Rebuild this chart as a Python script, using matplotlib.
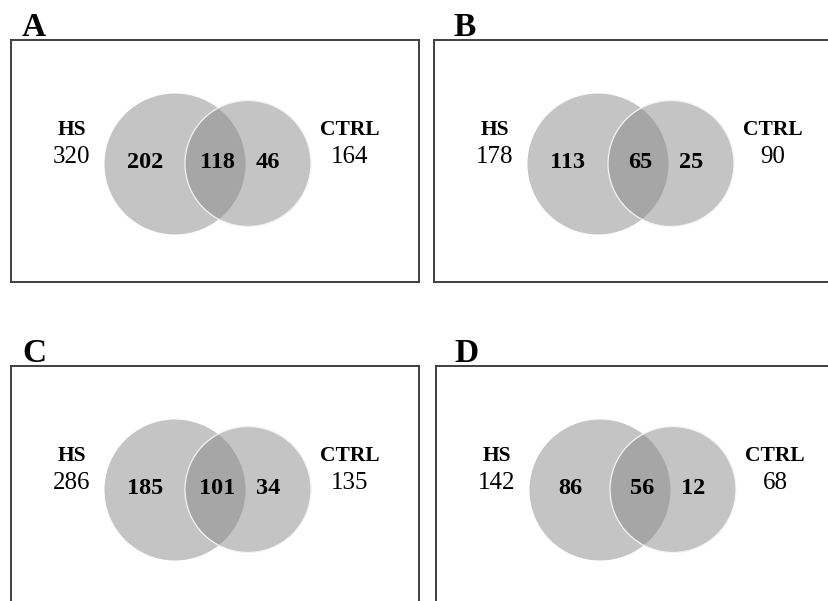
import matplotlib.pyplot as plt
from matplotlib.patches import Circle

# panel letters and counts
panels = ["A", "B", "C", "D"]
hs_total = [320, 178, 286, 142]
ctrl_total = [164, 90, 135, 68]
hs_only = [202, 113, 185, 86]
shared = [118, 65, 101, 56]
ctrl_only = [46, 25, 34, 12]

W, H = 829, 601
# box position of each panel in pixels (left, top)
boxes = [(11, 40), (434, 40), (11, 366), (436, 366)]
box_w, box_h = 408, 242
letter_dx = [11, 19, 11, 18]

plt.rcParams["font.family"] = ["Liberation Serif", "DejaVu Serif"]

fig = plt.figure(figsize=(W / 100, H / 100), dpi=100)

for i, (left, top) in enumerate(boxes):
    ax = fig.add_axes([left / W, 1 - (top + box_h) / H, box_w / W, box_h / H])
    ax.set_xlim(0, box_w)
    ax.set_ylim(box_h, 0)
    ax.set_xticks([])
    ax.set_yticks([])
    for s in ax.spines.values():
        s.set_color("#404040")
        s.set_linewidth(1.4)

    # venn circles: same grey, half transparent, so overlap comes out darker
    ax.add_patch(Circle((164, 124), 70.5, facecolor="#878787", alpha=0.49,
                        edgecolor="none"))
    ax.add_patch(Circle((237, 123.5), 63, facecolor="#878787", alpha=0.49,
                        edgecolor="none"))
    ax.add_patch(Circle((237, 123.5), 63, facecolor="none", edgecolor="#f4f4f4",
                        linewidth=0.9))

    ax.text(61, 95, "HS", fontsize=15.5, fontweight="bold", ha="center", va="baseline")
    ax.text(61, 123, str(hs_total[i]), fontsize=18, ha="center", va="baseline")
    ax.text(339, 95, "CTRL", fontsize=15.5, fontweight="bold", ha="center", va="baseline")
    ax.text(339, 123, str(ctrl_total[i]), fontsize=18, ha="center", va="baseline")

    ax.text(134, 128, str(hs_only[i]), fontsize=17.5, fontweight="bold", ha="center", va="baseline")
    ax.text(206, 128, str(shared[i]), fontsize=17.5, fontweight="bold", ha="center", va="baseline")
    ax.text(257, 128, str(ctrl_only[i]), fontsize=17.5, fontweight="bold", ha="center", va="baseline")

    ax.text(letter_dx[i], -4, panels[i], fontsize=24, fontweight="bold", ha="left",
            va="baseline", clip_on=False)

fig.savefig("out.png", dpi=100)
plt.close(fig)
